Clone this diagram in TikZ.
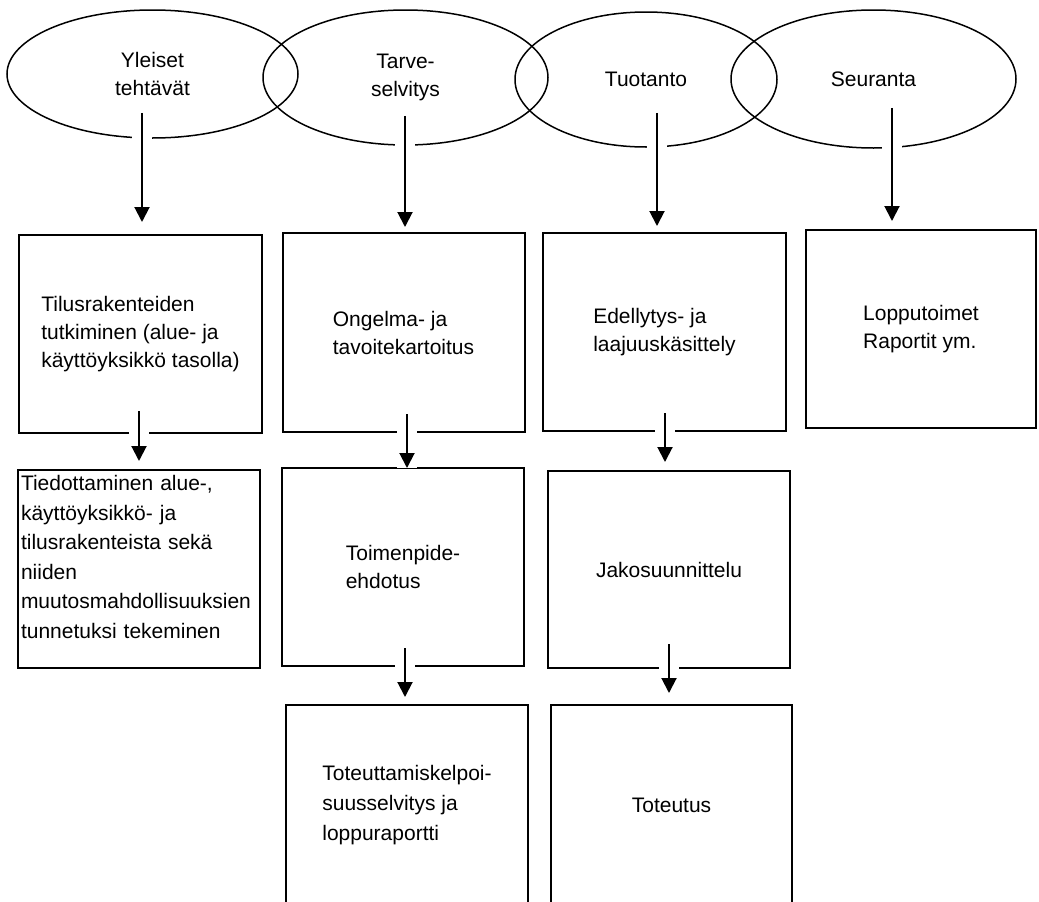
\documentclass[tikz,border=0pt]{standalone}
\usepackage{fontspec}
\setmainfont{Liberation Sans}
\usetikzlibrary{shapes.geometric,arrows.meta,calc}

\tikzset{
  phase/.style={draw, ellipse, line width=1.5pt, inner sep=0pt, align=center},
  task/.style={draw, rectangle, line width=2pt, inner sep=0pt, align=left,
    minimum width=242pt, minimum height=198pt},
  link/.style={line width=2pt, -{Triangle[width=15pt,length=15pt]},
    preaction={draw=white, line width=20pt, arrows=-}}
}

\begin{document}
\begin{tikzpicture}[x=1pt, y=-1pt, font=\fontsize{21pt}{28pt}\selectfont]
      \useasboundingbox (0,0) rectangle (1039,902);
      \clip (0,0) rectangle (1039,902);
      \fill[white] (0,0) rectangle (1039,902);

      \node[phase, minimum width=291pt, minimum height=128pt] (yleiset) at (152.5,74) {Yleiset\\tehtävät};
      \node[phase, minimum width=285pt, minimum height=135pt] (tarve) at (405.5,77.5) {Tarve-\\selvitys};
      \node[phase, minimum width=262pt, minimum height=135pt] (tuotanto) at (646,79.5) {Tuotanto};
      \node[phase, minimum width=285pt, minimum height=138pt] (seuranta) at (873.5,79) {Seuranta};

      \node[task, minimum width=243pt] (tilus) at (140.5,334) {Tilusrakenteiden\\tutkiminen (alue- ja\\käyttöyksikkö tasolla)};
      \node[task, minimum height=199pt] (ongelma) at (403.5,332.5) {Ongelma- ja\\tavoitekartoitus};
      \node[task, minimum width=243pt] (edellytys) at (664.5,332) {Edellytys- ja\\laajuuskäsittely};
      \node[task, minimum width=230pt] (loppu) at (921,329) {Lopputoimet\\Raportit ym.};

      \node[task, text width=236pt, font=\fontsize{21pt}{29.5pt}\selectfont] (tiedotus) at (139,569) {Tiedottaminen alue-,\\käyttöyksikkö- ja\\tilusrakenteista sekä\\niiden\\muutosmahdollisuuksien\\tunnetuksi tekeminen\\[-5.5pt]\mbox{}};
      \node[task] (toimenpide) at (403,567) {Toimenpide-\\ehdotus};
      \node[task, minimum height=197pt] (jako) at (669,569.5) {Jakosuunnittelu};

      \node[task, minimum height=200pt, font=\fontsize{21pt}{30pt}\selectfont] (raportti) at (407,805) {Toteuttamiskelpoi-\\suusselvitys ja\\loppuraportti};
      \node[task, minimum width=241pt, minimum height=200pt] (toteutus) at (671.5,805) {Toteutus};

      \draw[link] ($(yleiset.south -| tilus.north)+(1.5,-26)$) -- ($(tilus.north)+(1.5,-12)$);
      \draw[link] ($(tarve.south -| ongelma.north)+(1.5,-30)$) -- ($(ongelma.north)+(1.5,-5)$);
      \draw[link] ($(tuotanto.south -| edellytys.north)+(-7.5,-35)$) -- ($(edellytys.north)+(-7.5,-6)$);
      \draw[link] ($(seuranta.south -| loppu.north)+(-29,-41)$) -- ($(loppu.north)+(-29,-8)$);

      \draw[link] ($(tilus.south -| tiedotus.north)+(0,-23)$) -- ($(tiedotus.north)+(0,-8)$);
      \draw[link] ($(ongelma.south -| toimenpide.north)+(4,-19)$) -- ($(toimenpide.north)+(4,1)$);
      \draw[link] ($(toimenpide.south)+(2,-19)$) -- ($(raportti.north)+(-2,-7)$);
      \draw[link] ($(edellytys.south)+(0.5,-19)$) -- ($(jako.north)+(-4,-8)$);
      \draw[link] ($(jako.south)+(0,-25)$) -- ($(toteutus.north)+(-2.5,-11)$);
  \end{tikzpicture}
\end{document}
